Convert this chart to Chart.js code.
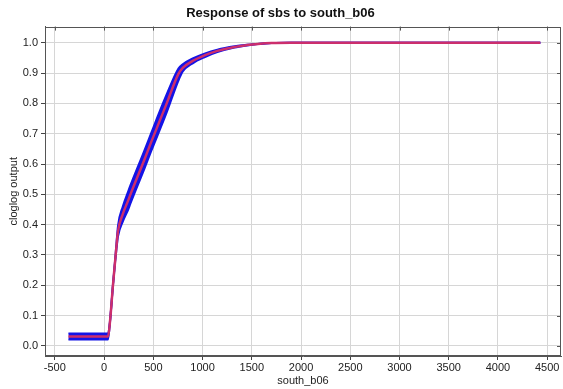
<!DOCTYPE html>
<html>
<head>
<meta charset="utf-8">
<script src="https://cdn.jsdelivr.net/npm/chart.js@4/dist/chart.umd.min.js"></script>
<style>
html,body{margin:0;padding:0;background:#fff;}
#wrap{width:563px;height:389px;}
</style>
</head>
<body>
<div id="wrap"><canvas id="c" width="563" height="389"></canvas></div>
<script>
// south_b06 values
const xValues = [-362, 40, 60, 90, 112, 122, 142, 190, 245, 268, 410, 478, 630, 755, 799, 900, 1019, 1150, 1325, 1450, 1562, 1700, 1900, 4430];
// mean cloglog response
const meanValues = [0.031, 0.031, 0.08, 0.2, 0.28, 0.316, 0.38, 0.435, 0.48, 0.50, 0.615, 0.672, 0.795, 0.897, 0.917, 0.94, 0.958, 0.973, 0.986, 0.992, 0.996, 0.999, 1.0, 1.0];
// replicate band
const lowerValues = [0.021, 0.021, 0.078, 0.198, 0.277, 0.308, 0.362, 0.41, 0.45, 0.47, 0.585, 0.642, 0.765, 0.875, 0.905, 0.932, 0.952, 0.969, 0.984, 0.991, 0.996, 0.999, 1.0, 1.0];
const upperValues = [0.041, 0.041, 0.082, 0.202, 0.283, 0.324, 0.398, 0.46, 0.51, 0.53, 0.645, 0.702, 0.825, 0.915, 0.929, 0.948, 0.964, 0.977, 0.988, 0.993, 0.996, 0.999, 1.0, 1.0];
const xTicks = [-500, 0, 500, 1000, 1500, 2000, 2500, 3000, 3500, 4000, 4500];
const yTicks = [0, 0.1, 0.2, 0.3, 0.4, 0.5, 0.6, 0.7, 0.8, 0.9, 1.0];

const pts = arr => xValues.map((x, i) => ({x: x, y: arr[i]}));
const FONT = "'Liberation Sans', Arial, Helvetica, sans-serif";
const BLUE = '#1414e6';
const RED = '#cc2e6c';

const framePlugin = {
  id: 'frame',
  afterDraw(chart) {
    const a = chart.chartArea, ctx = chart.ctx;
    const xs = chart.scales.x, ys = chart.scales.y;
    ctx.save();
    ctx.strokeStyle = '#555';
    ctx.lineWidth = 1;
    ctx.strokeRect(Math.round(a.left) + 0.5, Math.round(a.top) + 0.5, Math.round(a.right - a.left) - 1, Math.round(a.bottom - a.top) - 1);
    ctx.beginPath();
    xTicks.forEach(v => {
      const px = Math.round(xs.getPixelForValue(v)) + 0.5;
      ctx.moveTo(px, a.top); ctx.lineTo(px, a.top + 4);
    });
    yTicks.forEach(v => {
      const py = Math.round(ys.getPixelForValue(v)) + 0.5;
      ctx.moveTo(a.right, py); ctx.lineTo(a.right - 4, py);
    });
    ctx.stroke();
    ctx.restore();
  }
};

const lineCommon = {pointRadius: 0, cubicInterpolationMode: 'monotone'};

new Chart(document.getElementById('c'), {
  type: 'line',
  data: {
    datasets: [
      Object.assign({data: pts(lowerValues), borderColor: BLUE, borderWidth: 2, fill: false, order: 3}, lineCommon),
      Object.assign({data: pts(upperValues), borderColor: BLUE, borderWidth: 2, backgroundColor: BLUE, fill: '-1', order: 2}, lineCommon),
      Object.assign({data: pts(meanValues), borderColor: RED, borderWidth: 2.5, fill: false, order: 1}, lineCommon)
    ]
  },
  options: {
    responsive: false,
    animation: false,
    events: [],
    layout: {padding: {left: 0, right: 2, top: 0, bottom: 0}},
    plugins: {
      legend: {display: false},
      tooltip: {enabled: false},
      title: {
        display: true,
        text: 'Response of sbs to south_b06',
        color: '#111',
        font: {family: FONT, size: 13, weight: 'bold'},
        padding: {top: 6, bottom: 5}
      }
    },
    scales: {
      x: {
        type: 'linear',
        min: -600, max: 4640,
        afterBuildTicks: s => { s.ticks = xTicks.map(v => ({value: v})); },
        afterFit: s => { s.height = 33; },
        grid: {color: '#d6d6d6', tickColor: '#444', tickLength: 4, lineWidth: 1},
        border: {color: '#555', width: 1},
        ticks: {color: '#222', font: {family: FONT, size: 11}, padding: 1, maxRotation: 0, autoSkip: false, callback: v => String(v)},
        title: {display: true, text: 'south_b06', color: '#222', font: {family: FONT, size: 11}, padding: {top: 0, bottom: 1}}
      },
      y: {
        type: 'linear',
        min: -0.033, max: 1.053,
        afterBuildTicks: s => { s.ticks = yTicks.map(v => ({value: v})); },
        afterFit: s => { s.width = 45; },
        grid: {color: '#d6d6d6', tickColor: '#444', tickLength: 4, lineWidth: 1},
        border: {color: '#555', width: 1},
        ticks: {color: '#222', font: {family: FONT, size: 11}, padding: 3, autoSkip: false, callback: v => v.toFixed(1)},
        title: {display: true, text: 'cloglog output', color: '#222', font: {family: FONT, size: 11}, padding: {top: 7, bottom: 0}}
      }
    }
  },
  plugins: [framePlugin]
});
</script>
</body>
</html>
